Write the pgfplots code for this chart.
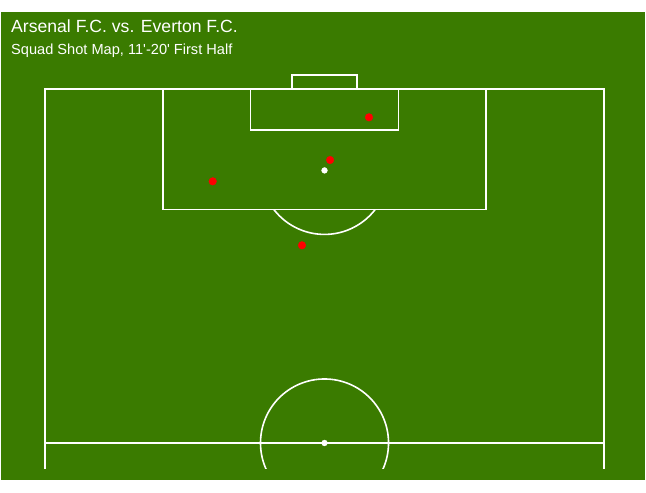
\documentclass[border=0pt]{standalone}
\usepackage{fontspec}
\setmainfont{Liberation Sans}[Ligatures=TeXOff]
\usepackage{pgfplots}
\pgfplotsset{compat=1.18}
\definecolor{pitchgreen}{RGB}{58,123,0}

\begin{document}
\begin{tikzpicture}
\begin{axis}[
    scale only axis,
    width=644pt, height=468pt,
    xmin=-7.87, xmax=107.33,
    ymin=-10.876, ymax=55.226,
    y dir=reverse,
    hide axis,
    clip=false,
]
% background and bounding box
\path (axis cs:-8.05,-12.57) (axis cs:107.51,57.06);
\fill[pitchgreen] (axis cs:-7.87,-10.876) rectangle (axis cs:107.33,55.226);

% pitch markings (Opta units, attacking half)
\addplot[white, line width=1.5pt] coordinates {(0,53.67) (0,0) (100,0) (100,53.67)};
\addplot[white, line width=1.5pt] coordinates {(0,50) (100,50)};
\addplot[white, line width=1.5pt] coordinates {(21.1,0) (21.1,17) (78.9,17) (78.9,0)};
\addplot[white, line width=1.5pt] coordinates {(36.8,0) (36.8,5.8) (63.2,5.8) (63.2,0)};
\addplot[white, line width=1.5pt] coordinates {(44.2,0) (44.2,-2) (55.8,-2) (55.8,0)};
\begin{scope}
  \clip (axis cs:0,17) rectangle (axis cs:100,40);
  \draw[white, line width=1.6pt] (axis cs:50,11.5) ellipse [x radius=11.45, y radius=9.04];
\end{scope}
\begin{scope}
  \clip (axis cs:-5,30) rectangle (axis cs:105,53.67);
  \draw[white, line width=1.6pt] (axis cs:50,50) ellipse [x radius=11.45, y radius=9.04];
\end{scope}
\addplot[only marks, mark=*, mark size=2.9pt, white] coordinates {(50,11.5) (50,50)};

% shots
\addplot[only marks, mark=*, mark size=3.8pt, color=red] coordinates {
  (57.96,4.0) (51.0,10.03) (30.0,13.04) (45.97,22.08)
};

% titles
\node[anchor=base west, white, font=\fontsize{17.6}{20}\selectfont, inner sep=0pt]
  at (axis cs:-6.08,-7.98) {Arsenal F.C. vs. Everton F.C.};
\node[anchor=base west, white, font=\fontsize{14.6}{17}\selectfont, inner sep=0pt]
  at (axis cs:-6.08,-4.94) {Squad Shot Map, 11'-20' First Half};
\end{axis}
\end{tikzpicture}
\end{document}
